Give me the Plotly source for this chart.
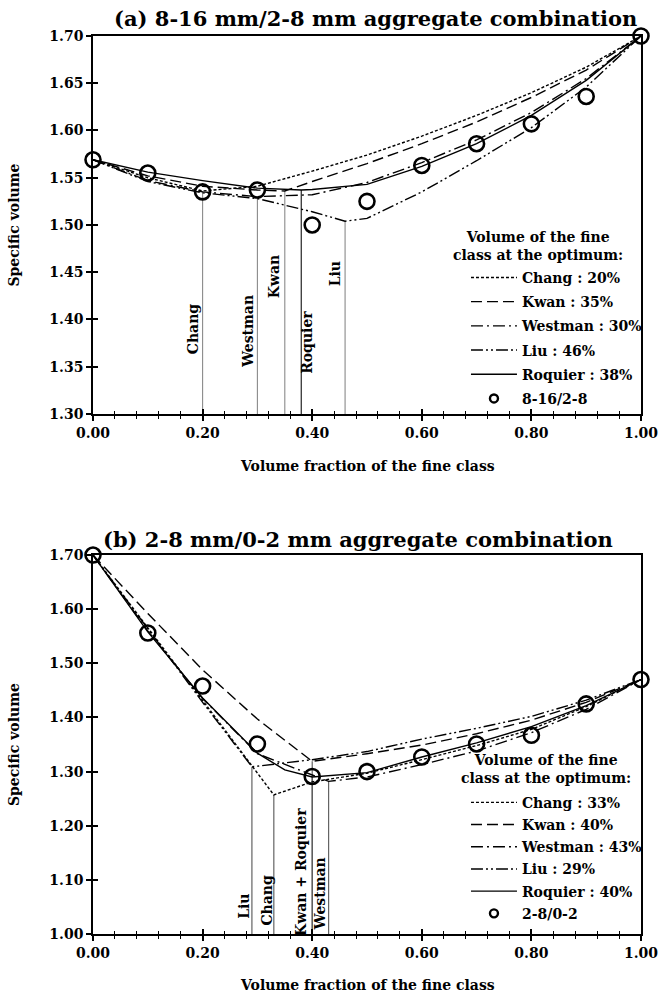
import plotly.graph_objects as go

FONT = "DejaVu Serif"

# ---------------- (a) 8-16 mm / 2-8 mm ----------------
a_exp_x = [0.0, 0.1, 0.2, 0.3, 0.4, 0.5, 0.6, 0.7, 0.8, 0.9, 1.0]
a_exp_y = [1.569, 1.555, 1.535, 1.537, 1.500, 1.525, 1.563, 1.586, 1.607, 1.636, 1.700]

a_chang_x = [0.0, 0.1, 0.2, 0.3, 0.4, 0.5, 0.6, 0.7, 0.8, 0.9, 1.0]
a_chang_y = [1.569, 1.550, 1.536, 1.541, 1.557, 1.574, 1.594, 1.616, 1.640, 1.667, 1.700]

a_kwan_x = [0.0, 0.1, 0.2, 0.3, 0.35, 0.4, 0.5, 0.6, 0.7, 0.8, 0.9, 1.0]
a_kwan_y = [1.569, 1.552, 1.541, 1.537, 1.536, 1.546, 1.565, 1.586, 1.609, 1.635, 1.664, 1.700]

a_westman_x = [0.0, 0.1, 0.2, 0.3, 0.4, 0.5, 0.6, 0.7, 0.8, 0.9, 1.0]
a_westman_y = [1.569, 1.547, 1.535, 1.530, 1.532, 1.545, 1.566, 1.590, 1.619, 1.655, 1.700]

a_liu_x = [0.0, 0.1, 0.2, 0.3, 0.4, 0.46, 0.5, 0.6, 0.7, 0.8, 0.9, 1.0]
a_liu_y = [1.569, 1.546, 1.534, 1.528, 1.514, 1.504, 1.507, 1.535, 1.568, 1.603, 1.646, 1.700]

a_roquier_x = [0.0, 0.1, 0.2, 0.3, 0.38, 0.4, 0.5, 0.6, 0.7, 0.8, 0.9, 1.0]
a_roquier_y = [1.569, 1.556, 1.547, 1.539, 1.537, 1.5375, 1.543, 1.562, 1.586, 1.616, 1.653, 1.700]

a_models = ["Chang", "Kwan", "Westman", "Liu", "Roquier"]
a_optimum = [0.20, 0.35, 0.30, 0.46, 0.38]
a_exp_name = "8-16/2-8"

# ---------------- (b) 2-8 mm / 0-2 mm ----------------
b_exp_x = [0.0, 0.1, 0.2, 0.3, 0.4, 0.5, 0.6, 0.7, 0.8, 0.9, 1.0]
b_exp_y = [1.700, 1.556, 1.458, 1.351, 1.291, 1.300, 1.327, 1.351, 1.367, 1.425, 1.470]

b_chang_x = [0.0, 0.1, 0.2, 0.3, 0.33, 0.4, 0.5, 0.6, 0.7, 0.8, 0.9, 1.0]
b_chang_y = [1.700, 1.566, 1.432, 1.297, 1.257, 1.281, 1.297, 1.322, 1.348, 1.378, 1.420, 1.470]

b_kwan_x = [0.0, 0.1, 0.2, 0.3, 0.4, 0.5, 0.6, 0.7, 0.8, 0.9, 1.0]
b_kwan_y = [1.700, 1.592, 1.488, 1.397, 1.319, 1.333, 1.349, 1.370, 1.395, 1.428, 1.470]

b_westman_x = [0.0, 0.1, 0.2, 0.3, 0.43, 0.5, 0.6, 0.7, 0.8, 0.9, 1.0]
b_westman_y = [1.700, 1.560, 1.435, 1.333, 1.282, 1.290, 1.313, 1.338, 1.372, 1.415, 1.470]

b_liu_x = [0.0, 0.1, 0.2, 0.29, 0.3, 0.4, 0.5, 0.6, 0.7, 0.8, 0.9, 1.0]
b_liu_y = [1.700, 1.563, 1.428, 1.309, 1.310, 1.322, 1.337, 1.360, 1.380, 1.402, 1.432, 1.470]

b_roquier_x = [0.0, 0.1, 0.2, 0.3, 0.35, 0.4, 0.5, 0.6, 0.7, 0.8, 0.9, 1.0]
b_roquier_y = [1.700, 1.558, 1.436, 1.334, 1.303, 1.290, 1.298, 1.327, 1.353, 1.383, 1.422, 1.470]

b_models = ["Chang", "Kwan", "Westman", "Liu", "Roquier"]
b_optimum = [0.33, 0.40, 0.43, 0.29, 0.40]
b_exp_name = "2-8/0-2"

# axis settings (values)
x_range = [0.0, 1.0]
a_y_range = [1.30, 1.70]
b_y_range = [1.00, 1.70]

# ---------------- styles ----------------
DASH = {"Chang": "3px,2px", "Kwan": "11px,5px", "Westman": "12px,4px,2px,4px",
        "Liu": "12px,3px,2px,3px,2px,3px", "Roquier": "solid"}

a_series = {"Chang": (a_chang_x, a_chang_y), "Kwan": (a_kwan_x, a_kwan_y),
            "Westman": (a_westman_x, a_westman_y), "Liu": (a_liu_x, a_liu_y),
            "Roquier": (a_roquier_x, a_roquier_y)}
b_series = {"Chang": (b_chang_x, b_chang_y), "Kwan": (b_kwan_x, b_kwan_y),
            "Westman": (b_westman_x, b_westman_y), "Liu": (b_liu_x, b_liu_y),
            "Roquier": (b_roquier_x, b_roquier_y)}

fig = go.Figure()


def value_at(series, x):
    xs, ys = series
    return ys[xs.index(x)]


def add_panel(series, models, optimum, exp_x, exp_y, exp_name, xa, ya, legend,
              y_floor, vcolors):
    # optimum vertical lines
    for m, o, c in zip(models, optimum, vcolors):
        fig.add_trace(go.Scatter(x=[o, o], y=[y_floor, value_at(series[m], o)],
                                 mode="lines", line=dict(color=c, width=1.1),
                                 xaxis=xa, yaxis=ya, showlegend=False,
                                 hoverinfo="skip"))
    # model curves
    for i, (m, o) in enumerate(zip(models, optimum)):
        xs, ys = series[m]
        fig.add_trace(go.Scatter(x=xs, y=ys, mode="lines",
                                 name=f"{m} : {round(o * 100)}%",
                                 line=dict(color="black", width=1.4, dash=DASH[m]),
                                 xaxis=xa, yaxis=ya, legend=legend,
                                 legendgroup=f"{legend}{i}", cliponaxis=False))
    # measured points (plot) + small legend-only entry
    fig.add_trace(go.Scatter(x=exp_x, y=exp_y, mode="markers", name=exp_name,
                             marker=dict(symbol="circle-open", size=15, color="black",
                                         line=dict(width=2.6, color="black")),
                             xaxis=xa, yaxis=ya, showlegend=False, cliponaxis=False))
    fig.add_trace(go.Scatter(x=[None], y=[None], mode="markers", name=exp_name,
                             marker=dict(symbol="circle-open", size=8, color="black",
                                         line=dict(width=2.4, color="black")),
                             xaxis=xa, yaxis=ya, legend=legend,
                             legendgroup=f"{legend}exp"))


add_panel(a_series, a_models, a_optimum, a_exp_x, a_exp_y, a_exp_name, "x", "y",
          "legend", a_y_range[0], ["#8a8a8a", "#8a8a8a", "#8a8a8a", "#8a8a8a", "#111111"])
add_panel(b_series, b_models, b_optimum, b_exp_x, b_exp_y, b_exp_name, "x2", "y2",
          "legend2", b_y_range[0], ["#555555"] * 5)

# empty traces to activate the overlay (inner tick) axes
fig.add_trace(go.Scatter(x=[], y=[], xaxis="x3", yaxis="y3", showlegend=False))
fig.add_trace(go.Scatter(x=[], y=[], xaxis="x4", yaxis="y4", showlegend=False))

tickfont = dict(family=FONT, size=14, color="black", weight="bold")
A_DOM = [0.5791, 1.0]
B_DOM = [0.0, 0.4220]


def xax(direction, show_labels, **kw):
    d = dict(range=x_range, dtick=0.2, tick0=0, tickformat=".2f", ticks=direction,
             ticklen=5, tickwidth=1.5, tickcolor="black",
             minor=dict(dtick=0.04, ticks=direction, ticklen=3, tickwidth=1.2,
                        tickcolor="black"),
             showgrid=False, zeroline=False, showticklabels=show_labels,
             tickfont=tickfont)
    d.update(kw)
    return d


def yax(rng, dt, direction, show_labels, **kw):
    d = dict(range=rng, dtick=dt, tick0=rng[0], tickformat=".2f", ticks=direction,
             ticklen=5, tickwidth=1.5, tickcolor="black", showgrid=False,
             zeroline=False, showticklabels=show_labels, tickfont=tickfont)
    d.update(kw)
    return d


line_kw = dict(showline=True, linecolor="black", linewidth=1.6, mirror=True)

fig.update_layout(
    width=670, height=994,
    margin=dict(l=93, r=18, t=36, b=60),
    plot_bgcolor="white", paper_bgcolor="white",
    font=dict(family=FONT, color="black"),
    xaxis=xax("outside", True, domain=[0, 1], anchor="y", **line_kw),
    yaxis=yax(a_y_range, 0.05, "outside", True, domain=A_DOM, anchor="x", **line_kw),
    xaxis2=xax("outside", True, domain=[0, 1], anchor="y2", **line_kw),
    yaxis2=yax(b_y_range, 0.10, "outside", True, domain=B_DOM, anchor="x2", **line_kw),
    xaxis3=xax("inside", False, overlaying="x", anchor="y3"),
    yaxis3=yax(a_y_range, 0.05, "inside", False, overlaying="y", anchor="x3"),
    xaxis4=xax("inside", False, overlaying="x2", anchor="y4"),
    yaxis4=yax(b_y_range, 0.10, "inside", False, overlaying="y2", anchor="x4"),
    showlegend=True,
)

legend_common = dict(
    xanchor="left", yanchor="top", bgcolor="rgba(0,0,0,0)",
    font=dict(family=FONT, size=14, color="black", weight="bold"),
    itemclick=False, itemdoubleclick=False, itemwidth=46,
)
fig.update_layout(
    legend=dict(x=0.6806, y=0.7485, tracegroupgap=3, **legend_common),
    legend2=dict(x=0.6806, y=0.1640, tracegroupgap=1, **legend_common),
)

ann_font = dict(family=FONT, size=14, color="black", weight="bold")
annotations = []


def ann(**kw):
    d = dict(showarrow=False, xanchor="center", yanchor="middle", font=ann_font)
    d.update(kw)
    annotations.append(d)


# panel titles
title_font = dict(family=FONT, size=21, color="black", weight="bold")
ann(text="(a) 8-16 mm/2-8 mm aggregate combination", xref="paper", yref="paper",
    x=0.5155, y=1.020, font=title_font)
ann(text="(b) 2-8 mm/0-2 mm aggregate combination", xref="paper", yref="paper",
    x=0.4834, y=0.4388, font=title_font)
# legend headings
for lx, ly in ((0.8122, 0.7656), (0.8265, 0.1832)):
    ann(text="Volume of the fine<br>class at the optimum:", xref="paper", yref="paper",
        x=lx, y=ly, align="center")
# axis titles
for yy in (0.5212, -0.0568):
    ann(text="Volume fraction of the fine class", xref="paper", yref="paper", x=0.5, y=yy)
for yy in (0.7895, 0.2110):
    ann(text="Specific volume", xref="paper", yref="paper", x=-0.145, y=yy, textangle=-90)

# optimum labels (rotated)
a_labels = [("Chang", 0.183, 1.390), ("Westman", 0.283, 1.387), ("Kwan", 0.331, 1.445),
            ("Roquier", 0.390, 1.376), ("Liu", 0.442, 1.448)]
for t, lx, ly in a_labels:
    ann(text=t, x=lx, y=ly, xref="x", yref="y", textangle=-90)
b_labels = [("Liu", 0.2755, 1.052), ("Chang", 0.317, 1.063),
            ("Kwan + Roquier", 0.380, 1.115), ("Westman", 0.4156, 1.075)]
for t, lx, ly in b_labels:
    ann(text=t, x=lx, y=ly, xref="x2", yref="y2", textangle=-90)

fig.update_layout(annotations=annotations)

fig.write_html("out.html")
